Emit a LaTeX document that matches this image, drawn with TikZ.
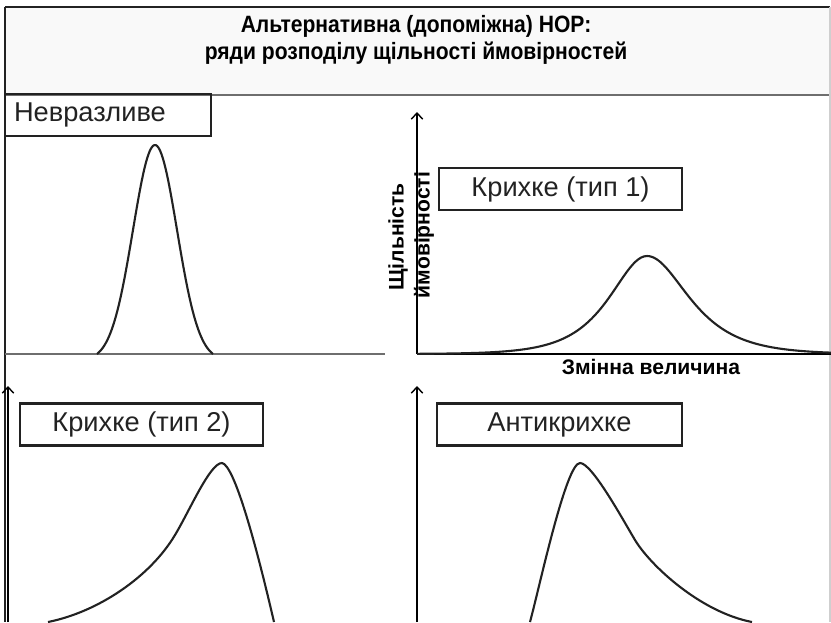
\documentclass[tikz,border=0pt]{standalone}
\usepackage{fontspec}
\setmainfont{Liberation Sans}
\usetikzlibrary{arrows.meta}
\definecolor{ink}{HTML}{222222}
\definecolor{titlebg}{HTML}{F9F9F9}
\definecolor{rulegray}{HTML}{6E6E6E}
\definecolor{edgegray}{HTML}{CFCFCF}
\tikzset{
  labelbox/.style={draw=ink, line width=1.3pt, minimum height=0.84cm, inner sep=0pt,
    font=\fontsize{15.5}{17}\selectfont, text=ink},
  curve/.style={draw=ink, line width=1.2pt, line join=round},
  axis/.style={draw=black, line width=0.8pt},
  axislabel/.style={font=\bfseries\fontsize{12}{13}\selectfont},
  >={Straight Barb[length=3.5pt, width=6.5pt]},
}

\begin{document}
\begin{tikzpicture}[x=0.02cm, y=-0.02cm]
  \useasboundingbox (0,0) rectangle (831,622);

  % title strip
  \fill[titlebg] (5,7) rectangle (830,95);
  \draw[ink, line width=1pt] (5,7) -- (830,7);
  \draw[rulegray, line width=1pt] (5,95) -- (830,95);
  \draw[edgegray, line width=0.8pt] (830,7) -- (830,622);
  \draw[ink, line width=1pt] (5,7) -- (5,622);
  \node[font=\bfseries\fontsize{12}{14}\selectfont, align=center, yscale=1.12, transform shape] (title) at (416,40)
    {Альтернативна (допоміжна) НОР:\\ряди розподілу щільності ймовірностей};

  % axes
  \coordinate (o1) at (417,354);
  \coordinate (y1) at (417,112);
  \coordinate (x1) at (831,354);
  \coordinate (o2) at (8,622);
  \coordinate (y2) at (8,386);
  \coordinate (o3) at (417,622);
  \coordinate (y3) at (417,386);
  \draw[rulegray, line width=0.8pt] (5,354) -- (385,354);
  \draw[axis, ->] (o1) -- (y1);
  \draw[axis] (o1) -- (x1);
  \draw[axis, ->] (o2) -- (y2);
  \draw[axis, ->] (o3) -- (y3);

  \node[axislabel, rotate=90] (dens) at (398,237) {Щільність};
  \node[axislabel, rotate=90] (prob) at (424,235) {ймовірності};
  \node[axislabel] (var) at (651,367) {Змінна величина};

  % labels
  \node[labelbox, minimum width=4.12cm, text width=3.76cm, align=left] (nevr) at (108,115) {Невразливе};
  \node[labelbox, minimum width=4.86cm] (kr1) at (560.5,189) {Крихке (тип 1)};
  \node[labelbox, minimum width=4.86cm] (kr2) at (141.5,424.5) {Крихке (тип 2)};
  \node[labelbox, minimum width=4.90cm] (anti) at (559.5,424.5) {Антикрихке};

  % distributions
  \draw[curve] plot[domain=97:213, samples=80]
    (\x, {354 - 209*(exp(-0.5*((\x-155)/22)^2) - 0.031)/0.969});
  \draw[curve] plot[domain=417:647, samples=80]
    (\x, {354 - 196/(exp((\x-647)/33) + exp(-(\x-647)/33))})
    -- plot[domain=647:831, samples=80]
    (\x, {354 - 196/(exp((\x-647)/37) + exp(-(\x-647)/37))});
  \draw[curve] (48,622) .. controls (98,612) and (150,577) .. (175,535)
    .. controls (190,510) and (210,463) .. (222,463)
    .. controls (234,465) and (255,540) .. (274,622);
  \draw[curve] (530,622) .. controls (540,585) and (566,463) .. (580,463)
    .. controls (592,463) and (623,520) .. (635,540)
    .. controls (650,565) and (700,612) .. (752,622);
\end{tikzpicture}
\end{document}
